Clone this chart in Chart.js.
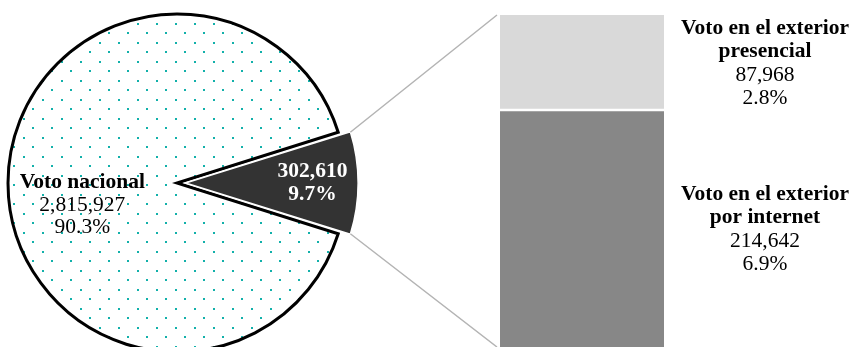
<!DOCTYPE html>
<html lang="es">
<head>
<meta charset="UTF-8">
<title>Voto nacional y voto en el exterior</title>
<script src="https://cdn.jsdelivr.net/npm/chart.js"></script>
<style>
body { margin: 0; background: #fff; overflow: hidden; }
.wrap { position: relative; width: 852px; height: 347px; overflow: hidden; }
#pie { position: absolute; left: 0; top: 0; }
#bar { position: absolute; left: 340px; top: 0; }
</style>
</head>
<body>
<div class="wrap">
    <canvas id="pie" width="400" height="366"></canvas>
    <canvas id="bar" width="512" height="347"></canvas>
</div>
<script>
// data
const pieLabels = ['Voto nacional', 'Voto en el exterior'];
const pieValues = [2815927, 302610];
// top to bottom, as in the stacked bar
const barLabels = [['Voto en el exterior', 'presencial'], ['Voto en el exterior', 'por internet']];
const barValues = [87968, 214642];

const total = pieValues.reduce((a, b) => a + b, 0);
const extTotal = barValues.reduce((a, b) => a + b, 0);
const SERIF = '"Liberation Serif", "Times New Roman", serif';

const fmt = v => v.toLocaleString('en-US');
const pct = v => (v / total * 100).toFixed(1) + '%';

function dotPattern() {
    const c = document.createElement('canvas');
    c.width = 19; c.height = 19;
    const g = c.getContext('2d');
    g.fillStyle = '#fff';
    g.fillRect(0, 0, 19, 19);
    g.fillStyle = '#12b0aa';
    g.fillRect(4, 4, 2, 2);
    g.fillRect(13, 13, 2, 2);
    return g.createPattern(c, 'repeat');
}

// where Chart.js actually moves an offset arc (same math as ArcElement.draw)
function arcShift(el) {
    const off = (el.options.offset || 0) / 4;
    const circ = el.endAngle - el.startAngle;
    const fix = 1 - Math.sin(Math.min(Math.PI, circ));
    const mid = (el.startAngle + el.endAngle) / 2;
    const d = off * (1 + fix);
    return { x: el.x + Math.cos(mid) * d, y: el.y + Math.sin(mid) * d, mid };
}

function drawLines(ctx, lines, x, yc, gap) {
    const y0 = yc - (lines.length - 1) * gap / 2;
    lines.forEach((l, i) => {
        ctx.font = (l.bold ? 'bold ' : '') + '21.5px ' + SERIF;
        ctx.fillStyle = l.color || '#000';
        ctx.fillText(l.text, x, y0 + i * gap);
    });
}

// labels inside the pie
const pieText = {
    id: 'pieText',
    afterDatasetsDraw(chart) {
        const ctx = chart.ctx;
        const arcs = chart.getDatasetMeta(0).data;
        ctx.save();
        ctx.textAlign = 'center';
        ctx.textBaseline = 'middle';

        const a = arcs[0];
        drawLines(ctx, [
            { text: pieLabels[0], bold: true },
            { text: fmt(pieValues[0]) },
            { text: pct(pieValues[0]) }
        ], a.x - a.outerRadius * 0.56, a.y + 22, 22.5);

        const b = arcs[1];
        const s = arcShift(b);
        const r = b.outerRadius * 0.73;
        drawLines(ctx, [
            { text: fmt(pieValues[1]), bold: true, color: '#fff' },
            { text: pct(pieValues[1]), bold: true, color: '#fff' }
        ], s.x + Math.cos(s.mid) * r, s.y + Math.sin(s.mid) * r, 23);
        ctx.restore();
    }
};

const pieChart = new Chart(document.getElementById('pie'), {
    type: 'pie',
    data: {
        labels: pieLabels,
        datasets: [{
            data: pieValues,
            backgroundColor: [dotPattern(), '#333333'],
            borderColor: ['#000000', '#ffffff'],
            borderWidth: [3, 1.5],
            borderJoinStyle: 'miter',
            offset: [0, 34]
        }]
    },
    options: {
        responsive: false,
        animation: false,
        radius: 169,
        rotation: 90 + pieValues[1] / total * 180,
        layout: { padding: { left: 0, right: 46, top: 0, bottom: 0 } },
        plugins: { legend: { display: false }, tooltip: { enabled: false } }
    },
    plugins: [pieText]
});

// connector lines + labels next to the bar
const barText = {
    id: 'barText',
    afterDatasetsDraw(chart) {
        const ctx = chart.ctx;
        const dx = -340;
        const b = pieChart.getDatasetMeta(0).data[1];
        const s = arcShift(b);
        const corners = [b.startAngle, b.endAngle].map(t => ({
            x: s.x + Math.cos(t) * b.outerRadius + dx,
            y: s.y + Math.sin(t) * b.outerRadius
        })).sort((p, q) => p.y - q.y);

        const top = chart.getDatasetMeta(1).data[0];
        const bottom = chart.getDatasetMeta(0).data[0];
        const left = top.x - top.width / 2;

        ctx.save();
        ctx.strokeStyle = '#b4b4b4';
        ctx.lineWidth = 1.5;
        ctx.beginPath();
        ctx.moveTo(corners[0].x, corners[0].y);
        ctx.lineTo(left - 3, top.y);
        ctx.moveTo(corners[1].x, corners[1].y);
        ctx.lineTo(left - 3, bottom.base);
        ctx.stroke();

        ctx.textAlign = 'center';
        ctx.textBaseline = 'middle';
        const tx = top.x + top.width / 2 + 101;
        [top, bottom].forEach((el, i) => {
            drawLines(ctx, [
                { text: barLabels[i][0], bold: true },
                { text: barLabels[i][1], bold: true },
                { text: fmt(barValues[i]) },
                { text: pct(barValues[i]) }
            ], tx, (el.y + el.base) / 2, 23.3);
        });
        ctx.restore();
    }
};

new Chart(document.getElementById('bar'), {
    type: 'bar',
    data: {
        labels: [''],
        datasets: [
            { label: barLabels[1].join(' '), data: [barValues[1]], backgroundColor: '#878787', borderWidth: 0 },
            { label: barLabels[0].join(' '), data: [barValues[0]], backgroundColor: '#d9d9d9',
              borderColor: '#ffffff', borderWidth: { top: 0, left: 0, right: 0, bottom: 3 }, borderSkipped: false }
        ]
    },
    options: {
        responsive: false,
        animation: false,
        layout: { padding: { left: 160, right: 188, top: 15, bottom: 0 } },
        datasets: { bar: { barPercentage: 1, categoryPercentage: 1 } },
        scales: {
            x: { stacked: true, display: false },
            y: { stacked: true, display: false, min: 0, max: extTotal }
        },
        plugins: { legend: { display: false }, tooltip: { enabled: false } }
    },
    plugins: [barText]
});
</script>
</body>
</html>
